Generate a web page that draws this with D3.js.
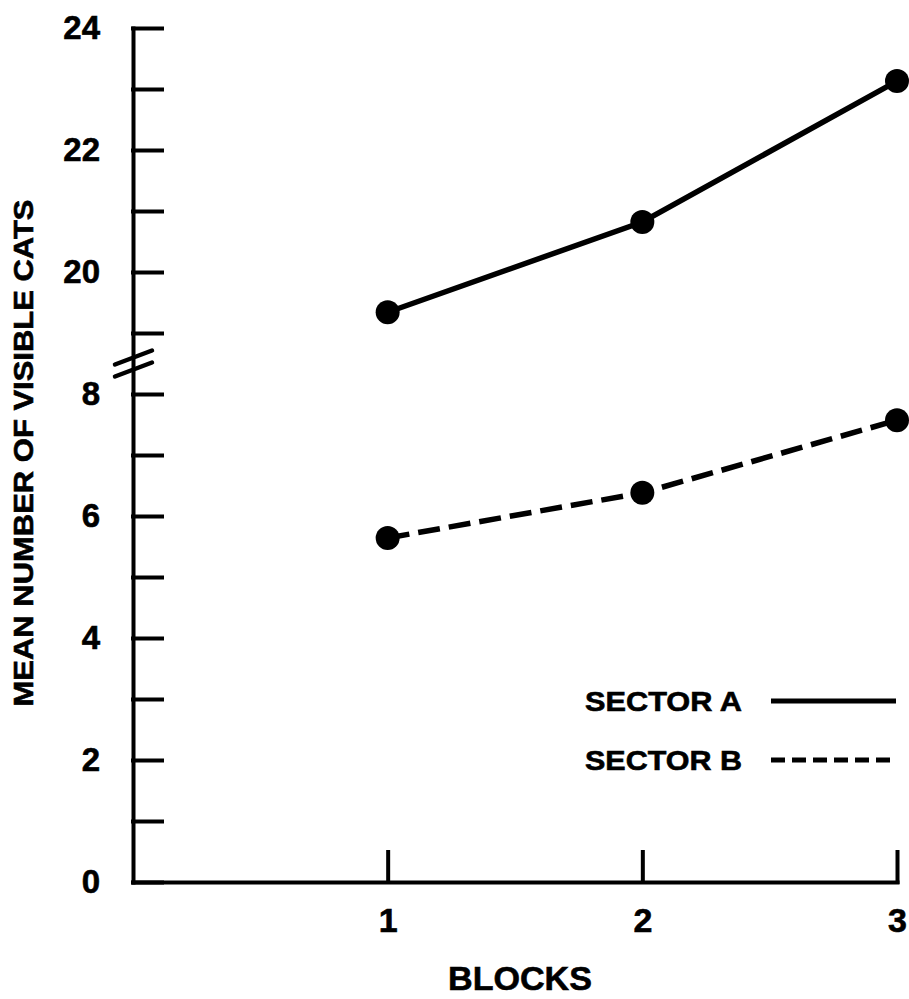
<!DOCTYPE html>
<html lang="en">
<head>
    <meta charset="UTF-8">
    <title>Mean Number of Visible Cats by Block</title>
    <style>
        body { margin: 0; background: #fff; }
        svg text {
            font-family: 'Liberation Sans', Arial, sans-serif;
            font-weight: bold;
            fill: #000;
            stroke: #000;
            stroke-width: 0.6px;
        }
    </style>
    <script src="https://d3js.org/d3.v7.min.js"></script>
</head>
<body>
    <svg id="graph" width="909" height="999"></svg>
    <script>
        // data
        let blocks = [1, 2, 3];
        let sectorA = [19.34, 20.82, 23.13];
        let sectorB = [5.64, 6.38, 7.57];
        let seriesNames = ["SECTOR A", "SECTOR B"];
        let yTicks = [0, 1, 2, 3, 4, 5, 6, 7, 8, 19, 20, 21, 22, 23, 24];
        let yLabels = [0, 2, 4, 6, 8, 20, 22, 24];

        let svg = d3.select("#graph");

        let x = d3.scaleLinear().domain([0, 3]).range([133, 897]);
        // broken axis: 8.5 .. 18.5 collapse onto one point
        let y = d3.scaleLinear()
            .domain([0, 8.5, 18.5, 24])
            .range([882, 882 - 8.5 * 61, 882 - 8.5 * 61, 28]);

        let yAxis = svg.append("g")
            .attr("transform", "translate(133,0)")
            .call(d3.axisLeft(y)
                .tickValues(yTicks)
                .tickSizeInner(-29)
                .tickSizeOuter(0)
                .tickPadding(33)
                .tickFormat(d => yLabels.includes(d) ? d : ""));

        let xAxis = svg.append("g")
            .attr("transform", "translate(0,882)")
            .call(d3.axisBottom(x)
                .tickValues(blocks)
                .tickSizeInner(-30)
                .tickSizeOuter(0)
                .tickPadding(26)
                .tickFormat(d3.format("d")));

        svg.selectAll(".domain, .tick line")
            .attr("stroke", "#000")
            .attr("stroke-width", 4)
            .attr("stroke-linecap", "square");
        yAxis.selectAll("text").style("font-size", "33px");
        xAxis.selectAll("text").style("font-size", "34px");

        // break marks on the y axis
        let yb = (y(8) + y(19)) / 2;
        [-6, 6].forEach(function(off) {
            svg.append("line")
                .attr("x1", 115).attr("y1", yb + off + 7)
                .attr("x2", 152).attr("y2", yb + off - 7)
                .attr("stroke", "#000")
                .attr("stroke-width", 4.5)
                .attr("stroke-linecap", "round");
        });

        let line = d3.line()
            .x(d => x(d[0]))
            .y(d => y(d[1]));

        let seriesData = [
            {name: seriesNames[0], values: blocks.map((b, i) => [b, sectorA[i]]), dash: null},
            {name: seriesNames[1], values: blocks.map((b, i) => [b, sectorB[i]]), dash: "22,9"}
        ];

        seriesData.forEach(function(s) {
            svg.append("path")
                .datum(s.values)
                .attr("fill", "none")
                .attr("stroke", "#000")
                .attr("stroke-width", 5.5)
                .attr("stroke-dasharray", s.dash)
                .attr("d", line);

            svg.selectAll(null)
                .data(s.values)
                .enter()
                .append("circle")
                .attr("cx", d => x(d[0]))
                .attr("cy", d => y(d[1]))
                .attr("r", 12)
                .attr("fill", "#000");
        });

        // legend
        let legendDash = [null, "14,7"];
        seriesNames.forEach(function(name, i) {
            let ly = 701 + i * 59;
            svg.append("text")
                .attr("x", 742)
                .attr("y", ly + 10)
                .attr("text-anchor", "end")
                .attr("textLength", 157)
                .attr("lengthAdjust", "spacingAndGlyphs")
                .style("font-size", "28px")
                .text(name);
            svg.append("line")
                .attr("x1", 771).attr("x2", 896)
                .attr("y1", ly).attr("y2", ly)
                .attr("stroke", "#000")
                .attr("stroke-width", 5)
                .attr("stroke-dasharray", legendDash[i]);
        });

        // axis titles
        svg.append("text")
            .attr("transform", "translate(33,453) rotate(-90)")
            .attr("text-anchor", "middle")
            .attr("textLength", 507)
            .attr("lengthAdjust", "spacingAndGlyphs")
            .style("font-size", "27px")
            .text("MEAN NUMBER OF VISIBLE CATS");

        svg.append("text")
            .attr("x", 520)
            .attr("y", 990)
            .attr("text-anchor", "middle")
            .attr("textLength", 144)
            .attr("lengthAdjust", "spacingAndGlyphs")
            .style("font-size", "34px")
            .text("BLOCKS");
    </script>
</body>
</html>
